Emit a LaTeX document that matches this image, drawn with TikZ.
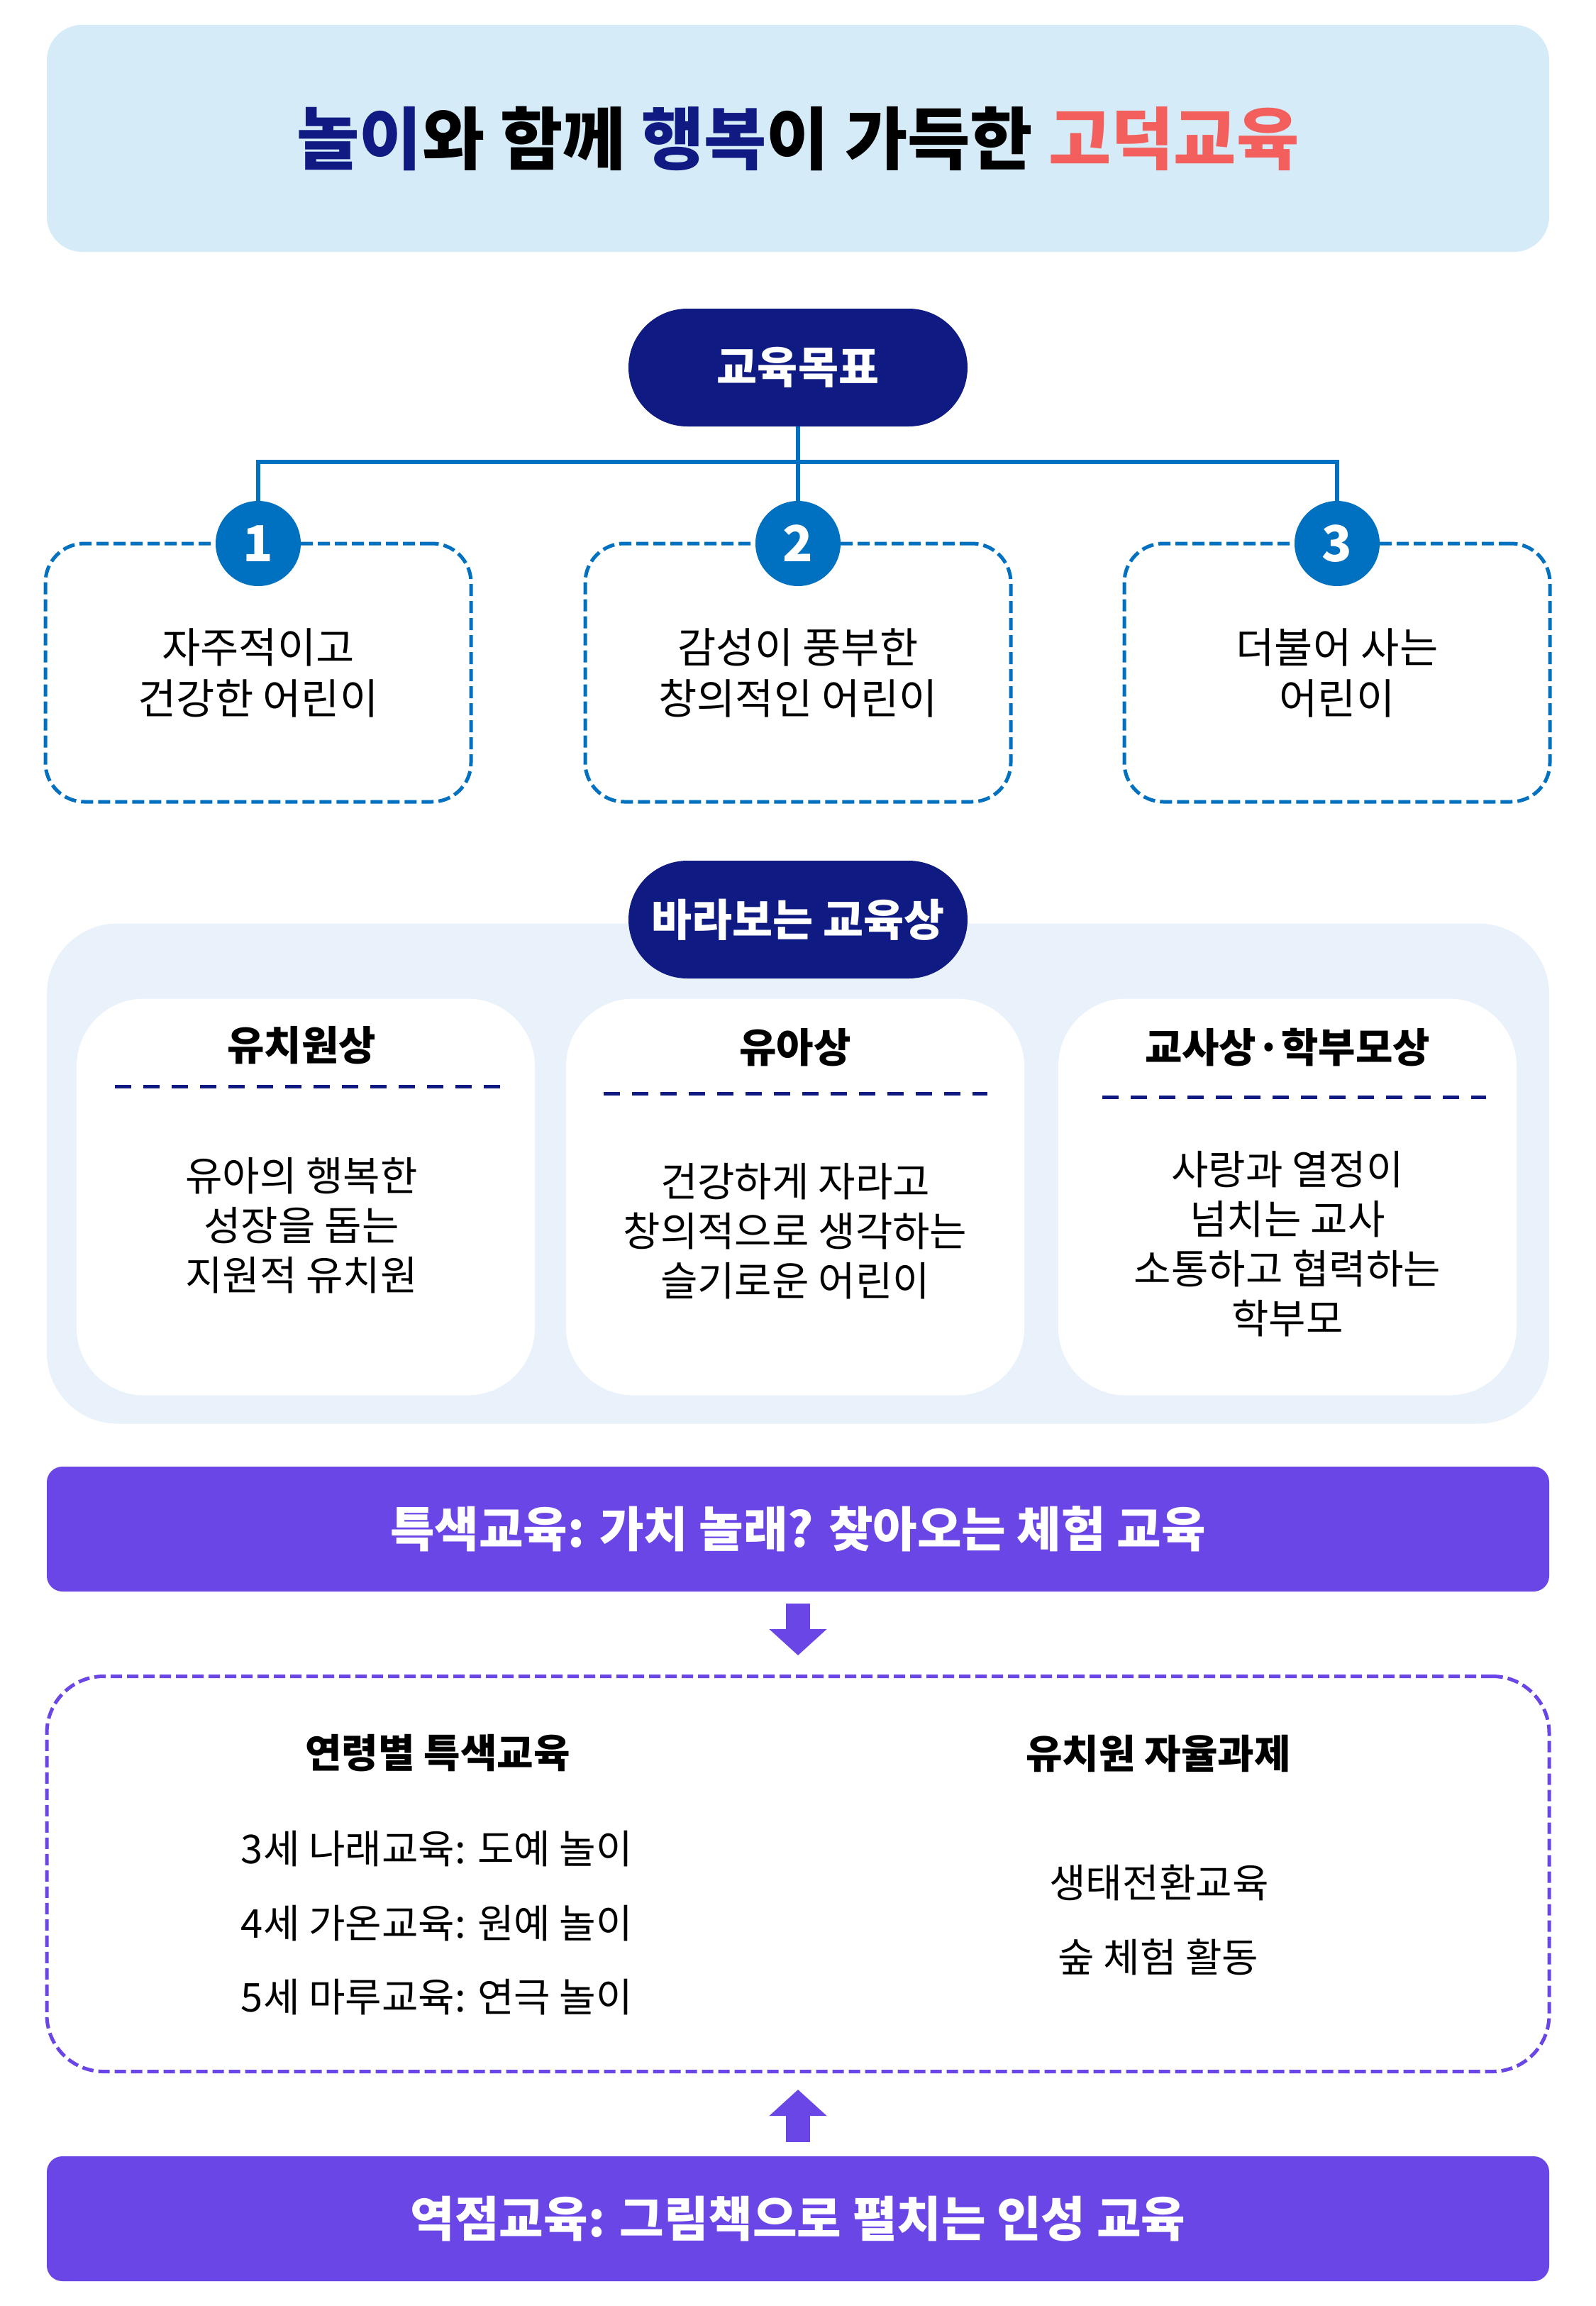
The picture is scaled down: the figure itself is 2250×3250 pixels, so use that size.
\documentclass[tikz,border=0pt]{standalone}
\usepackage{fontspec}
\setmainfont{Noto Sans CJK KR}
\usetikzlibrary{arrows.meta,calc,positioning}
\definecolor{skyblue}{HTML}{D5EBF7}
\definecolor{navy}{HTML}{0F1A82}
\definecolor{coral}{HTML}{F25F5C}
\definecolor{linkblue}{HTML}{0070C0}
\definecolor{paleblue}{HTML}{E9F1FA}
\definecolor{purplebar}{HTML}{6A46E6}

\tikzset{
	banner/.style={fill=skyblue, rounded corners=50pt, minimum width=2118pt, minimum height=320pt,
		font=\fontsize{96}{110}\selectfont\bfseries},
	pill/.style={fill=navy, text=white, rounded corners=83pt, minimum width=478pt, minimum height=166pt,
		font=\fontsize{62}{70}\selectfont\bfseries},
	badge/.style={circle, fill=linkblue, text=white, minimum size=120pt, inner sep=0pt,
		font=\fontsize{70}{70}\selectfont\bfseries},
	goalbox/.style={draw=linkblue, line width=5pt, dash pattern=on 17pt off 7pt, rounded corners=55pt,
		minimum width=600pt, minimum height=364pt, align=center, font=\fontsize{59}{72}\selectfont},
	link/.style={draw=linkblue, line width=6pt},
	panel/.style={fill=paleblue, rounded corners=100pt, minimum width=2118pt, minimum height=705pt},
	card/.style={fill=white, rounded corners=95pt, minimum width=646pt, minimum height=559pt},
	cardhead/.style={font=\fontsize{57}{60}\selectfont\bfseries},
	cardtext/.style={align=center, font=\fontsize{57}{70}\selectfont},
	rule/.style={draw=navy, line width=5pt, dash pattern=on 23pt off 17pt},
	bar/.style={fill=purplebar, text=white, rounded corners=22pt, minimum width=2118pt, minimum height=176pt,
		font=\fontsize{68}{70}\selectfont\bfseries},
	trackbox/.style={draw=purplebar, line width=5pt, dash pattern=on 16pt off 7pt, rounded corners=80pt,
		minimum width=2118pt, minimum height=557pt},
	trackhead/.style={font=\fontsize{56}{60}\selectfont\bfseries},
	tracktext/.style={font=\fontsize{56}{60}\selectfont},
	blockarrow/.style={draw=purplebar, line width=34pt, -{Triangle[width=79pt,length=37pt]}}
}

\begin{document}
\begin{tikzpicture}[x=1pt,y=-1pt]
	\fill[white] (0,0) rectangle (2250,3250);

	% title
	\draw (1125,195) node[banner](title)
		{{\color{navy}놀이}와 함께 {\color{navy}행복}이 가득한 {\color{coral}고덕교육}};

	% goals
	\draw (364,948) node[goalbox](goal1) {자주적이고\\건강한 어린이};
	\draw (1125,948) node[goalbox](goal2) {감성이 풍부한\\창의적인 어린이};
	\draw (1885,948) node[goalbox](goal3) {더불어 사는\\어린이};

	\draw (364,766) node[badge](num1) {1};
	\draw (1125,766) node[badge](num2) {2};
	\draw (1885,766) node[badge](num3) {3};

	\draw (1125,518) node[pill](goal) {교육목표};
	\coordinate (bus) at (1125,651);

	\draw [link] (goal) -- (num2);
	\draw [link] (bus) -| (num1);
	\draw [link] (bus) -| (num3);

	% vision
	\draw (1125,1654) node[panel](vision) {};
	\draw (1125,1296) node[pill](visionhead) {바라보는 교육상};

	\draw (431,1687) node[card](card1) {};
	\draw (1121,1687) node[card](card2) {};
	\draw (1815,1687) node[card](card3) {};

	\draw (425,1473) node[cardhead](head1) {유치원상};
	\draw (1121,1476) node[cardhead](head2) {유아상};
	\draw (1815,1476) node[cardhead](head3) {교사상·학부모상};

	\draw [rule] (162,1531) -- (705,1531);
	\draw [rule] (851,1541) -- (1392,1541);
	\draw [rule] (1554,1546) -- (2095,1546);

	\draw (425,1727) node[cardtext](text1) {유아의 행복한\\성장을 돕는\\지원적 유치원};
	\draw (1121,1735) node[cardtext](text2) {건강하게 자라고\\창의적으로 생각하는\\슬기로운 어린이};
	\draw (1815,1753) node[cardtext](text3) {사랑과 열정이\\넘치는 교사\\소통하고 협력하는\\학부모};

	% programs
	\draw (1125,2155) node[bar](feature) {특색교육: 가치 놀래? 찾아오는 체험 교육};
	\draw (1125,2641) node[trackbox](track) {};
	\draw (1125,3127) node[bar](focus) {역점교육: 그림책으로 펼치는 인성 교육};

	\draw [blockarrow, shorten <=17pt, shorten >=27pt] (feature) -- (track);
	\draw [blockarrow, shorten <=20pt, shorten >=23pt] (focus) -- (track);

	\draw (617,2471) node[trackhead](agehead) {연령별 특색교육};
	\draw (1633,2471) node[trackhead](ownhead) {유치원 자율과제};

	\draw (616,2606) node[tracktext](age3) {3세 나래교육: 도예 놀이};
	\draw (616,2711) node[tracktext](age4) {4세 가온교육: 원예 놀이};
	\draw (616,2815) node[tracktext](age5) {5세 마루교육: 연극 놀이};

	\draw (1634,2653) node[tracktext](own1) {생태전환교육};
	\draw (1633,2758) node[tracktext](own2) {숲 체험 활동};
\end{tikzpicture}
\end{document}
